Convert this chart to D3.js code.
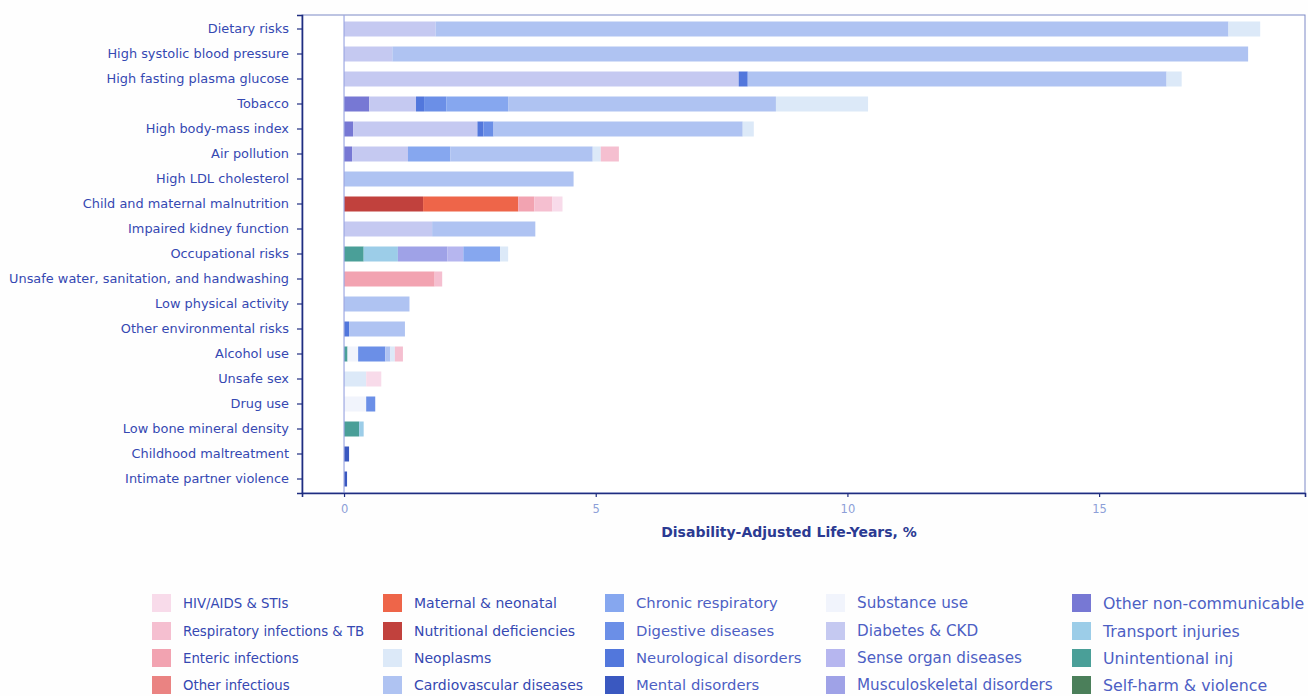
<!DOCTYPE html>
<html>
<head>
<meta charset="utf-8">
<script src="https://cdn.jsdelivr.net/npm/d3@7"></script>
<style>
  html, body { margin: 0; padding: 0; background: #fefefe; }
  svg { display: block; }
  text { font-family: "DejaVu Sans", "Liberation Sans", sans-serif; }
</style>
</head>
<body>
<svg id="chart" width="1308" height="696"></svg>
<script>
// Risk factors, top to bottom
const riskFactors = [
  "Dietary risks", "High systolic blood pressure", "High fasting plasma glucose",
  "Tobacco", "High body-mass index", "Air pollution", "High LDL cholesterol",
  "Child and maternal malnutrition", "Impaired kidney function", "Occupational risks",
  "Unsafe water, sanitation, and handwashing", "Low physical activity",
  "Other environmental risks", "Alcohol use", "Unsafe sex", "Drug use",
  "Low bone mineral density", "Childhood maltreatment", "Intimate partner violence"
];

// Cause groups in legend order
const causes = [
  "HIV/AIDS & STIs", "Respiratory infections & TB", "Enteric infections", "Other infectious",
  "Maternal & neonatal", "Nutritional deficiencies", "Neoplasms", "Cardiovascular diseases",
  "Chronic respiratory", "Digestive diseases", "Neurological disorders", "Mental disorders",
  "Substance use", "Diabetes & CKD", "Sense organ diseases", "Musculoskeletal disorders",
  "Other non-communicable", "Transport injuries", "Unintentional inj", "Self-harm & violence"
];

const causeColors = [
  "#f8dbea", "#f5bfd0", "#f2a3b1", "#ea8382",
  "#ee6549", "#c1413d", "#dce9f8", "#afc3f2",
  "#86a7ef", "#6b8fe7", "#5277dc", "#3a58c0",
  "#f1f4fc", "#c5c9f1", "#b6b6ef", "#9fa2e7",
  "#7778d4", "#9ccde8", "#4a9f98", "#4b7f5a"
];

// DALYs (%) attributable to each risk, by cause group (same order as riskFactors)
const hivStis        = [0, 0, 0, 0, 0, 0, 0, 0.20, 0, 0, 0, 0, 0, 0, 0.30, 0, 0, 0, 0];
const respInfections = [0, 0, 0, 0, 0, 0.36, 0, 0.36, 0, 0, 0.15, 0, 0, 0.16, 0, 0, 0, 0, 0];
const entericInf     = [0, 0, 0, 0, 0, 0, 0, 0.32, 0, 0, 1.80, 0, 0, 0, 0, 0, 0, 0, 0];
const otherInfectious= [0, 0, 0, 0, 0, 0, 0, 0, 0, 0, 0, 0, 0, 0, 0, 0, 0, 0, 0];
const maternalNeo    = [0, 0, 0, 0, 0, 0, 0, 1.89, 0, 0, 0, 0, 0, 0, 0, 0, 0, 0, 0];
const nutritional    = [0, 0, 0, 0, 0, 0, 0, 1.57, 0, 0, 0, 0, 0, 0, 0, 0, 0, 0, 0];
const neoplasms      = [0.63, 0, 0.30, 1.83, 0.22, 0.16, 0, 0, 0, 0.16, 0, 0, 0, 0.09, 0.44, 0, 0, 0, 0];
const cardiovascular = [15.75, 17.00, 8.32, 5.32, 4.95, 2.83, 4.56, 0, 2.05, 0, 0, 1.30, 1.11, 0.10, 0, 0, 0, 0, 0];
const chronicResp    = [0, 0, 0, 1.23, 0, 0.84, 0, 0, 0, 0.73, 0, 0, 0, 0, 0, 0, 0, 0, 0];
const digestive      = [0, 0, 0, 0.44, 0.20, 0, 0, 0, 0, 0, 0, 0, 0, 0.54, 0, 0.18, 0, 0, 0];
const neurological   = [0, 0, 0.18, 0.16, 0.12, 0, 0, 0, 0, 0, 0, 0, 0.10, 0, 0, 0, 0, 0, 0];
const mental         = [0, 0, 0, 0, 0, 0, 0, 0, 0, 0, 0, 0, 0, 0, 0, 0, 0, 0.10, 0.06];
const substanceUse   = [0, 0, 0, 0, 0, 0, 0, 0, 0, 0, 0, 0, 0, 0.21, 0, 0.44, 0, 0, 0];
const diabetesCkd    = [1.82, 0.96, 7.84, 0.93, 2.47, 1.11, 0, 0, 1.75, 0, 0, 0, 0, 0, 0, 0, 0, 0, 0];
const senseOrgan     = [0, 0, 0, 0, 0, 0, 0, 0, 0, 0.32, 0, 0, 0, 0, 0, 0, 0, 0, 0];
const musculoskeletal= [0, 0, 0, 0, 0, 0, 0, 0, 0, 0.98, 0, 0, 0, 0, 0, 0, 0, 0, 0];
const otherNcd       = [0, 0, 0, 0.50, 0.18, 0.16, 0, 0, 0, 0, 0, 0, 0, 0, 0, 0, 0, 0, 0];
const transportInj   = [0, 0, 0, 0, 0, 0, 0, 0, 0, 0.68, 0, 0, 0, 0, 0, 0, 0.09, 0, 0];
const unintentional  = [0, 0, 0, 0, 0, 0, 0, 0, 0, 0.39, 0, 0, 0, 0.07, 0, 0, 0.30, 0, 0];
const selfHarm       = [0, 0, 0, 0, 0, 0, 0, 0, 0, 0, 0, 0, 0, 0, 0, 0, 0, 0, 0];

const xTicks = [0, 5, 10, 15];
const xTitle = "Disability-Adjusted Life-Years, %";

// Build a table: one record per risk factor, one column per cause
const causeSeries = [
  hivStis, respInfections, entericInf, otherInfectious, maternalNeo, nutritional,
  neoplasms, cardiovascular, chronicResp, digestive, neurological, mental,
  substanceUse, diabetesCkd, senseOrgan, musculoskeletal, otherNcd, transportInj,
  unintentional, selfHarm
];
const table = riskFactors.map((r, i) => {
  const rec = { risk: r };
  causes.forEach((c, j) => { rec[c] = causeSeries[j][i]; });
  return rec;
});

const svg = d3.select("#chart");
const panel = { left: 302, right: 1305, top: 15, bottom: 493 };

const x = d3.scaleLinear().domain([-0.835, 19.09]).range([panel.left, panel.right]);
const y = d3.scaleBand().domain(riskFactors)
  .range([panel.top, panel.bottom]).paddingInner(0.4).paddingOuter(0.26);
const color = d3.scaleOrdinal().domain(causes).range(causeColors);

// The first legend level sits farthest from zero, so stack in reverse
const stack = d3.stack().keys(causes.slice().reverse());
const layers = stack(table);

// Panel frame
svg.append("rect")
  .attr("x", panel.left).attr("y", panel.top)
  .attr("width", panel.right - panel.left).attr("height", panel.bottom - panel.top)
  .attr("fill", "#ffffff").attr("stroke", "#7d89c6").attr("stroke-width", 1);

// Bars
const g = svg.append("g");
g.selectAll("g.layer").data(layers).join("g")
  .attr("class", "layer")
  .attr("fill", d => color(d.key))
  .selectAll("rect")
  .data(d => d.filter(s => s[1] - s[0] > 0))
  .join("rect")
  .attr("x", d => x(d[0]))
  .attr("y", d => y(d.data.risk))
  .attr("width", d => x(d[1]) - x(d[0]))
  .attr("height", y.bandwidth());

// Zero reference line
svg.append("line")
  .attr("x1", x(0)).attr("x2", x(0))
  .attr("y1", panel.top).attr("y2", panel.bottom)
  .attr("stroke", "#9ea9e2").attr("stroke-width", 1.2);

// Y axis
const yAxis = svg.append("g")
  .attr("transform", `translate(${panel.left},0)`)
  .call(d3.axisLeft(y).tickSize(5).tickPadding(8));
yAxis.select(".domain").attr("stroke", "#1f2d80").attr("stroke-width", 1.6);
yAxis.selectAll(".tick line").attr("stroke", "#1f2d80").attr("stroke-width", 1.2);
yAxis.selectAll(".tick text")
  .attr("fill", "#3548b2").attr("font-size", "12.9px")
  .attr("font-family", "'DejaVu Sans', sans-serif");

// X axis
const xAxis = svg.append("g")
  .attr("transform", `translate(0,${panel.bottom})`)
  .call(d3.axisBottom(x).tickValues(xTicks).tickSize(4).tickPadding(8));
xAxis.select(".domain").attr("stroke", "#1f2d80").attr("stroke-width", 1.6);
xAxis.selectAll(".tick text")
  .attr("fill", "#8d9fd8").attr("font-size", "11.5px")
  .attr("font-family", "'DejaVu Sans', sans-serif");
xAxis.selectAll(".tick line").attr("stroke", "#1f2d80").attr("stroke-width", 1.2);

svg.append("text")
  .attr("x", 789).attr("y", 537)
  .attr("text-anchor", "middle")
  .attr("font-weight", "bold").attr("font-size", "14px")
  .attr("fill", "#2b3a92")
  .text(xTitle);

// Legend: 5 columns x 4 rows, filled column by column
const legendCols = [152, 383, 605, 826, 1072];
const legendFont = [13.3, 14, 14.8, 15.2, 15.8];
const legendRows = [594, 622, 649, 676];
const legend = svg.append("g");
causes.forEach((c, i) => {
  const col = Math.floor(i / 4), row = i % 4;
  const lx = legendCols[col], ly = legendRows[row];
  legend.append("rect")
    .attr("x", lx).attr("y", ly).attr("width", 19).attr("height", 18)
    .attr("fill", color(c));
  legend.append("text")
    .attr("x", lx + 31).attr("y", ly + 9)
    .attr("dy", "0.35em")
    .attr("font-size", legendFont[col] + "px")
    .attr("fill", col < 2 ? "#3548b2" : "#4d5fc4")
    .text(c);
});
</script>
</body>
</html>
